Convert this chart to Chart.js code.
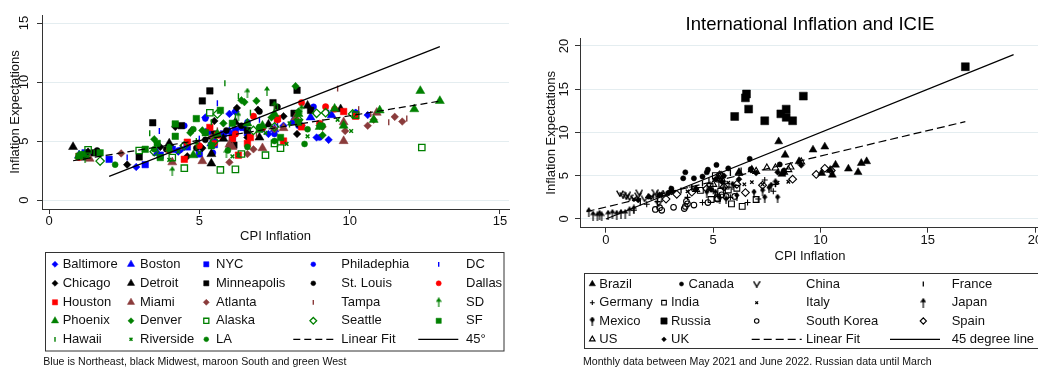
<!DOCTYPE html>
<html>
<head>
<meta charset="utf-8">
<script src="https://cdn.jsdelivr.net/npm/chart.js@4.4.1/dist/chart.umd.min.js"></script>
<style>
  html, body { margin: 0; padding: 0; background: #fff; }
  body { width: 1038px; height: 367px; overflow: hidden; position: relative; }
  canvas { position: absolute; top: 0; }
  #us { left: 0; }
  #intl { left: 520px; }
</style>
</head>
<body>
<canvas id="us" width="520" height="367"></canvas>
<canvas id="intl" width="580" height="367"></canvas>
<script>
// ---------- US cities: [CPI inflation, inflation expectations] ----------
const baltimore = [[2.9,2.8],[4.3,4.1],[4.4,4.3],[5.2,7.0],[5.5,5.0],[6.0,7.3],[6.2,7.5],[7.3,5.6],[7.8,6.3],[8.4,6.3],[8.9,5.3],[9.3,5.1],[10.2,7.4],[10.6,7.2]];
const boston = [[1.0,3.8],[3.6,4.0],[4.0,4.4],[5.0,4.5],[5.4,4.8],[6.0,5.8],[6.5,6.1],[7.5,6.0],[8.1,6.6],[8.7,7.0],[9.4,7.2]];
const nyc = [[1.2,4.0],[2.0,3.45],[3.2,3.0],[3.7,3.8],[4.1,4.3],[4.6,4.5],[5.0,3.9],[5.3,5.8],[5.5,4.7],[5.8,5.6],[6.1,5.3],[6.2,5.9],[6.4,6.2],[6.6,5.7]];
const philadelphia = [[1.3,3.8],[4.3,4.2],[4.5,6.3],[5.2,6.9],[5.45,4.0],[6.2,7.5],[6.6,6.6],[7.1,6.0],[7.5,5.6],[8.3,6.3],[8.8,7.9],[9.0,5.3],[10.2,7.4]];
const dc = [[1.1,3.7],[2.6,3.6],[3.67,5.85],[4.5,4.6],[5.0,5.2],[5.6,8.2],[6.2,6.0],[7.0,6.8],[7.6,6.4],[8.1,7.1],[9.3,7.4]];
const chicago = [[1.3,4.1],[2.6,3.0],[3.7,4.5],[4.2,6.2],[4.6,3.7],[4.75,5.9],[5.1,4.4],[5.5,6.7],[6.25,7.8],[6.6,5.3],[6.95,7.65],[7.8,7.1],[8.25,5.6]];
const detroit = [[0.8,4.5],[1.2,3.6],[4.0,4.8],[5.4,3.9],[5.4,3.1],[5.8,5.2],[6.2,6.6],[7.0,5.3],[7.3,6.4],[8.6,8.0],[9.7,7.7]];
const minneapolis = [[1.5,4.0],[3.0,3.65],[3.45,6.55],[4.4,6.3],[5.1,8.4],[5.35,9.25],[5.5,5.6],[6.15,4.65],[6.6,5.9],[7.45,8.25],[8.15,7.35],[8.25,9.3],[8.7,7.6]];
const stLouis = [[1.6,4.2],[3.9,4.3],[4.2,6.3],[4.9,4.4],[5.2,5.1],[5.9,5.9],[6.0,4.6],[6.4,6.3],[7.0,7.5],[7.6,7.9],[8.3,6.4]];
const dallas = [[1.0,3.6],[4.0,4.2],[5.0,4.6],[5.5,4.8],[6.2,5.6],[6.8,7.1],[7.1,6.1],[7.6,6.8],[8.4,8.25],[9.0,6.5],[9.2,7.9],[9.5,7.7]];
const houston = [[1.0,3.7],[4.5,3.45],[4.6,4.9],[5.35,6.15],[5.6,5.5],[6.1,5.2],[6.3,3.8],[6.6,4.8],[6.7,5.3],[7.6,6.9],[7.8,5.0],[8.4,6.2],[9.8,7.5],[10.2,7.1]];
const miami = [[1.35,3.5],[4.1,3.2],[5.1,3.3],[6.0,4.7],[6.1,4.5],[7.1,4.4],[7.8,6.1],[8.2,7.0],[9.8,5.0],[9.8,6.6],[10.9,7.4]];
const atlanta = [[2.4,3.95],[5.4,5.3],[6.0,3.2],[6.6,3.9],[6.8,4.3],[7.5,6.0],[9.1,6.2],[9.85,5.85],[10.6,6.3],[10.8,6.8],[11.5,7.05],[11.75,6.65]];
const tampa = [[4.4,4.5],[5.6,5.9],[6.9,5.6],[7.5,7.8],[8.2,6.7],[9.1,6.6],[9.6,9.45],[10.3,7.7],[10.7,7.3],[11.3,6.6],[11.9,6.9]];
const sd = [[1.2,3.6],[4.1,2.45],[4.9,4.7],[5.9,4.0],[6.3,7.1],[6.6,6.4],[6.6,9.1],[7.25,9.25],[7.5,8.0],[8.4,7.7]];
const phoenix = [[1.0,3.75],[4.8,3.8],[5.6,5.6],[6.6,6.5],[7.1,6.3],[7.5,7.3],[8.3,7.3],[9.0,6.2],[9.5,7.75],[9.8,6.3],[10.8,6.8],[11.0,7.6],[12.15,7.7],[12.35,9.25],[13.0,8.4]];
const denver = [[3.5,5.15],[4.0,4.2],[4.7,5.7],[5.1,5.9],[5.8,6.5],[6.4,8.45],[6.5,8.3],[6.9,8.4],[7.4,7.0],[8.2,9.65],[8.3,7.5],[9.0,6.3],[9.1,5.5]];
const alaska = [[1.3,4.25],[3.0,4.2],[4.1,3.6],[4.5,2.7],[5.35,7.4],[5.7,2.55],[6.2,2.6],[6.4,3.9],[7.2,3.8],[7.5,4.8],[7.7,4.4],[10.2,7.2],[12.4,4.45]];
const seattle = [[1.7,3.3],[3.5,4.1],[4.5,4.6],[5.5,5.0],[5.6,7.3],[6.8,5.9],[7.5,6.2],[8.3,6.8],[8.9,7.35],[9.2,7.4],[10.1,7.3]];
const sf = [[1.0,3.7],[1.7,4.0],[3.2,4.3],[3.6,4.8],[3.7,3.6],[4.2,5.4],[4.2,6.45],[4.9,6.9],[5.2,5.7],[5.4,4.6],[5.7,7.6],[6.1,6.5],[7.0,6.0],[7.7,5.3],[8.3,6.6]];
const hawaii = [[1.5,4.0],[3.35,5.65],[4.9,5.0],[5.4,6.6],[5.85,9.9],[6.2,7.1],[6.3,8.8],[6.7,7.4],[7.6,7.9],[8.0,6.4]];
const riverside = [[1.3,3.7],[4.0,3.4],[4.3,4.1],[5.0,4.0],[6.1,3.7],[6.3,3.8],[7.2,5.7],[7.9,4.75],[8.0,6.5],[8.6,5.4],[9.0,6.4],[9.6,6.8],[10.05,5.85]];
const la = [[1.1,3.9],[2.2,3.0],[3.5,4.3],[4.0,4.5],[4.8,6.0],[5.95,4.2],[6.6,4.5],[7.0,6.2],[7.5,5.0],[8.5,4.75],[8.6,6.0],[9.1,6.3]];
const usFit = [[0.8,3.33],[13.0,8.38]];
const us45 = [[2,2],[13,13]];

const cityLabels = ['Baltimore','Boston','NYC','Philadephia','DC','Chicago','Detroit','Minneapolis','St. Louis','Dallas',
  'Houston','Miami','Atlanta','Tampa','SD','Phoenix','Denver','Alaska','Seattle','SF','Hawaii','Riverside','LA'];
const cityData = [baltimore, boston, nyc, philadelphia, dc, chicago, detroit, minneapolis, stLouis, dallas,
  houston, miami, atlanta, tampa, sd, phoenix, denver, alaska, seattle, sf, hawaii, riverside, la];

// ---------- countries ----------
const brazil = [[6.2,5.4],[8.05,8.95],[8.2,5.2],[8.35,7.4],[9.0,6.65],[9.65,8.0],[10.05,5.3],[10.2,8.35],[10.45,5.65],[10.55,5.1],[10.7,6.25],[11.3,5.8],[11.75,5.4],[11.9,6.45],[12.15,6.65]];
const canada = [[2.9,3.0],[3.05,3.5],[3.6,4.7],[3.7,5.4],[4.1,4.7],[4.5,4.9],[4.7,5.4],[4.75,5.7],[5.15,6.25],[5.7,5.85],[6.7,6.95],[6.75,5.75],[8.1,6.3],[8.3,5.6]];
const china = [[0.65,2.95],[0.8,2.75],[0.95,2.6],[1.0,2.85],[1.1,2.5],[1.3,2.4],[1.5,2.7],[1.55,3.05],[1.8,2.35],[2.1,2.6],[2.3,3.1],[2.45,1.8],[2.5,2.9],[2.8,3.0]];
const france = [[1.6,1.9],[2.2,2.6],[2.6,2.8],[2.9,3.0],[3.0,3.5],[3.5,3.3],[4.0,3.6],[4.5,4.1],[4.8,4.4],[5.2,4.8],[5.8,5.3],[6.3,5.6]];
const germany = [[1.3,1.0],[1.9,1.7],[2.4,2.0],[3.8,2.5],[4.0,3.7],[4.5,1.9],[5.0,3.2],[5.2,2.8],[5.8,2.5],[6.6,1.9],[7.1,2.3],[7.4,4.5],[7.8,3.2],[7.9,4.0]];
const india = [[4.4,3.3],[4.85,3.75],[4.9,2.25],[5.1,5.0],[5.2,2.4],[5.3,4.6],[5.35,3.2],[5.4,4.0],[5.6,3.8],[5.7,3.35],[5.85,1.75],[6.1,3.55],[6.35,1.45],[7.0,2.25]];
const italy = [[1.3,2.3],[2.0,2.5],[2.6,2.8],[3.0,3.0],[3.8,3.2],[4.2,3.4],[4.8,3.6],[5.7,4.2],[6.0,3.8],[6.45,4.0],[6.8,4.25],[7.3,4.0],[8.0,4.2],[8.5,4.3]];
const japan = [[-0.8,0.8],[-0.6,0.4],[-0.4,0.3],[-0.3,0.5],[-0.2,0.3],[0.1,0.5],[0.3,0.6],[0.5,0.5],[0.7,0.6],[0.9,0.6],[1.1,0.9],[1.3,1.1],[2.4,2.4],[2.6,2.5]];
const mexico = [[4.7,3.0],[5.1,3.0],[5.3,2.3],[5.6,2.2],[5.9,3.9],[6.1,2.6],[6.9,3.0],[7.3,3.2],[7.4,2.4],[7.6,3.5],[7.7,3.8],[7.9,4.2],[8.0,2.4]];
const russia = [[6.0,11.85],[6.5,14.0],[6.55,14.45],[6.65,12.7],[7.4,11.35],[8.15,12.15],[8.4,12.7],[8.4,11.75],[8.7,11.35],[9.2,14.2],[16.75,17.6]];
const southKorea = [[2.3,1.1],[2.5,1.3],[2.6,1.0],[3.15,1.35],[3.65,1.2],[3.7,1.45],[3.75,2.05],[3.8,1.75],[4.1,1.6],[4.75,1.9],[5.2,2.3],[5.4,2.8],[5.6,2.6],[6.0,2.6]];
const spain = [[2.8,2.3],[3.3,2.85],[4.0,3.1],[4.7,3.5],[5.3,5.1],[5.5,3.7],[6.1,4.0],[6.5,3.05],[7.3,3.9],[8.7,4.6],[9.8,5.15],[10.2,5.85],[10.5,5.6]];
const usa = [[4.2,3.4],[5.0,4.0],[5.3,4.9],[5.4,4.6],[5.4,5.0],[6.2,5.3],[6.8,5.7],[7.0,5.5],[7.5,5.9],[7.9,5.9],[8.3,5.4],[8.5,5.7],[8.6,6.0],[9.1,6.6]];
const uk = [[1.5,2.2],[2.0,2.6],[2.5,2.8],[3.1,3.2],[4.2,3.5],[4.9,3.4],[5.1,4.6],[5.4,4.3],[5.5,5.0],[6.2,4.6],[7.0,5.3],[8.0,5.4],[8.3,5.3],[9.1,6.2]];
const intlFit = [[-0.9,0.85],[16.75,11.25]];
const intl45 = [[0,0],[19,19]];

const countryLabels = ['Brazil','Canada','China','France','Germany','India','Italy','Japan','Mexico','Russia','South Korea','Spain','US','UK'];
const countryData = [brazil, canada, china, france, germany, india, italy, japan, mexico, russia, southKorea, spain, usa, uk];

const usNote = 'Blue is Northeast, black Midwest, maroon South and green West';
const intlNote = 'Monthly data between May 2021 and June 2022. Russian data until March';

// ---------- styling ----------
const FONT = '"Liberation Sans", Arial, Helvetica, sans-serif';
const TXT = '#111';
const AXIS = '#333';
const GRID = '#e4edf0';
const BLUE = '#0000ff', BLACK = '#000000', RED = '#ff0000', MAROON = '#8a3b3b', GREEN = '#008000';

Chart.defaults.font.family = FONT;
Chart.defaults.font.size = 13;
Chart.defaults.color = TXT;
Chart.defaults.animation = false;
Chart.defaults.events = [];

// small drawn markers for symbols Chart.js does not have
function arrowMark(color) {
  const c = document.createElement('canvas');
  c.width = 6; c.height = 10;
  const g = c.getContext('2d');
  g.fillStyle = color; g.strokeStyle = color; g.lineWidth = 1.2;
  g.beginPath(); g.moveTo(3, 0); g.lineTo(6, 4.5); g.lineTo(0, 4.5); g.closePath(); g.fill();
  g.beginPath(); g.moveTo(3, 3); g.lineTo(3, 10); g.stroke();
  return c;
}
function vMark(color) {
  const c = document.createElement('canvas');
  c.width = 8; c.height = 7;
  const g = c.getContext('2d');
  g.strokeStyle = color; g.lineWidth = 1.4;
  g.beginPath(); g.moveTo(0.7, 0.7); g.lineTo(4, 6.3); g.lineTo(7.3, 0.7); g.stroke();
  return c;
}
function spadeMark(color) {
  const c = document.createElement('canvas');
  c.width = 6; c.height = 9;
  const g = c.getContext('2d');
  g.fillStyle = color; g.strokeStyle = color; g.lineWidth = 1.2;
  g.beginPath(); g.moveTo(3, 0); g.lineTo(5.6, 3.2); g.lineTo(3, 6.4); g.lineTo(0.4, 3.2); g.closePath(); g.fill();
  g.beginPath(); g.moveTo(3, 5.5); g.lineTo(3, 9); g.stroke();
  return c;
}

const cityStyles = [
  {color: BLUE, style: 'rectRot', r: 3.8, bw: 0.5},
  {color: BLUE, style: 'triangle', r: 5.2, bw: 0.5},
  {color: BLUE, style: 'rect', r: 4.6, bw: 0.5},
  {color: BLUE, style: 'circle', r: 3.0, bw: 0.5},
  {color: BLUE, style: 'line', rot: 90, r: 3.0, bw: 1.4},
  {color: BLACK, style: 'rectRot', r: 3.8, bw: 0.5},
  {color: BLACK, style: 'triangle', r: 5.2, bw: 0.5},
  {color: BLACK, style: 'rect', r: 4.6, bw: 0.5},
  {color: BLACK, style: 'circle', r: 3.0, bw: 0.5},
  {color: RED, style: 'circle', r: 3.2, bw: 0.5},
  {color: RED, style: 'rect', r: 4.6, bw: 0.5},
  {color: MAROON, style: 'triangle', r: 5.2, bw: 0.5},
  {color: MAROON, style: 'rectRot', r: 3.8, bw: 0.5},
  {color: MAROON, style: 'line', rot: 90, r: 3.0, bw: 1.4},
  {color: GREEN, style: arrowMark(GREEN), r: 3},
  {color: GREEN, style: 'triangle', r: 5.2, bw: 0.5},
  {color: GREEN, style: 'rectRot', r: 3.8, bw: 0.5},
  {color: GREEN, style: 'rect', r: 4.5, bw: 1.3, open: true},
  {color: GREEN, style: 'rectRot', r: 4.2, bw: 1.3, open: true},
  {color: GREEN, style: 'rect', r: 4.6, bw: 0.5},
  {color: GREEN, style: 'line', rot: 90, r: 3.0, bw: 1.4},
  {color: GREEN, style: 'crossRot', r: 2.6, bw: 1.5},
  {color: GREEN, style: 'circle', r: 3.0, bw: 0.5}
];

const countryStyles = [
  {color: BLACK, style: 'triangle', r: 4.6, bw: 0.5},
  {color: BLACK, style: 'circle', r: 2.6, bw: 0.5},
  {color: BLACK, style: vMark(BLACK), r: 3},
  {color: BLACK, style: 'line', rot: 90, r: 3.0, bw: 1.3},
  {color: BLACK, style: 'cross', r: 3.0, bw: 1.1},
  {color: BLACK, style: 'rect', r: 4.1, bw: 1.1, open: true},
  {color: BLACK, style: 'crossRot', r: 2.4, bw: 1.3},
  {color: BLACK, style: arrowMark(BLACK), r: 3},
  {color: BLACK, style: spadeMark(BLACK), r: 3},
  {color: BLACK, style: 'rect', r: 5.6, bw: 0.5},
  {color: BLACK, style: 'circle', r: 2.8, bw: 1.1, open: true},
  {color: BLACK, style: 'rectRot', r: 3.9, bw: 1.1, open: true},
  {color: BLACK, style: 'triangle', r: 4.0, bw: 1.1, open: true},
  {color: BLACK, style: 'rectRot', r: 3.0, bw: 0.5}
];

function pointSet(label, pts, s, i) {
  return {
    label,
    data: pts.map(([x, y]) => ({x, y})),
    showLine: false,
    pointStyle: s.style,
    pointRadius: s.r,
    pointRotation: s.rot || 0,
    pointBackgroundColor: s.open ? 'rgba(0,0,0,0)' : s.color,
    pointBorderColor: s.color,
    pointBorderWidth: s.bw || 0,
    order: -i
  };
}
function lineSet(label, pts, dash, i) {
  return {
    label,
    data: pts.map(([x, y]) => ({x, y})),
    showLine: true,
    pointRadius: 0,
    borderColor: '#000',
    borderWidth: 1.2,
    borderDash: dash,
    fill: false,
    order: -i
  };
}

function axisX(min, max, h, titlePad) {
  return {
    type: 'linear', min, max,
    border: {color: AXIS, width: 1},
    grid: {drawOnChartArea: false, drawTicks: true, tickLength: 5, tickColor: AXIS, tickWidth: 1},
    ticks: {stepSize: 5, includeBounds: false, padding: 0, maxRotation: 0, color: TXT, font: {size: 13}},
    title: {display: true, text: 'CPI Inflation', color: TXT, font: {size: 13}, padding: {top: 0, bottom: titlePad}},
    afterFit: s => { s.height = h; s.paddingLeft = 0; s.paddingRight = 0; }
  };
}
function axisY(min, max, w, tickPad, titlePad) {
  return {
    type: 'linear', min, max,
    border: {color: AXIS, width: 1},
    grid: {color: GRID, lineWidth: 1, drawTicks: true, tickLength: 5, tickColor: AXIS, tickWidth: 1},
    ticks: {stepSize: 5, includeBounds: false, minRotation: 90, maxRotation: 90, crossAlign: 'center',
            padding: tickPad, color: TXT, font: {size: 13}},
    title: {display: true, text: 'Inflation Expectations', color: TXT, font: {size: 13}, padding: {top: titlePad, bottom: 0}},
    afterFit: s => { s.width = w; s.paddingTop = 0; s.paddingBottom = 0; }
  };
}

function drawSymbol(ctx, s, x, y, k) {
  ctx.save();
  ctx.fillStyle = s.open ? 'rgba(0,0,0,0)' : s.color;
  ctx.strokeStyle = s.color;
  ctx.lineWidth = s.bw || 0;
  if (typeof s.style === 'object') {
    ctx.drawImage(s.style, x - s.style.width / 2, y - s.style.height / 2);
  } else {
    Chart.helpers.drawPoint(ctx, {pointStyle: s.style, radius: s.r * k, rotation: s.rot || 0, borderWidth: s.bw || 0}, x, y);
  }
  ctx.restore();
}

// legend box drawn inside the canvas, Stata-like grid of keys
function keyPlugin(key) {
  return {
    id: 'stataKey',
    afterDraw(chart) {
      const ctx = chart.ctx;
      ctx.save();
      ctx.strokeStyle = AXIS;
      ctx.lineWidth = 1;
      ctx.strokeRect(key.box[0], key.box[1], key.box[2], key.box[3]);
      ctx.font = '13px ' + FONT;
      ctx.textBaseline = 'middle';
      ctx.fillStyle = TXT;
      key.items.forEach((it, n) => {
        const row = Math.floor(n / key.cols), col = n % key.cols;
        const y = key.rows[row];
        const shift = (key.shift && key.shift[n]) || 0;
        if (it.line) {
          ctx.save();
          ctx.strokeStyle = '#000';
          ctx.lineWidth = 1.2;
          ctx.setLineDash(it.line);
          ctx.beginPath();
          ctx.moveTo(it.span[0], y);
          ctx.lineTo(it.span[1], y);
          ctx.stroke();
          ctx.restore();
        } else {
          drawSymbol(ctx, it.s, key.markX[col] + shift, y, key.k);
        }
        ctx.fillStyle = TXT;
        ctx.textAlign = 'left';
        ctx.fillText(it.label, key.textX[col] + shift, y);
      });
      ctx.font = '10.6px ' + FONT;
      ctx.fillText(key.note, key.noteX, key.noteY);
      ctx.restore();
    }
  };
}

// ---------- left: US cities ----------
const usSets = cityData.map((d, i) => pointSet(cityLabels[i], d, cityStyles[i], i));
usSets.push(lineSet('Linear Fit', usFit, [7, 4], usSets.length));
usSets.push(lineSet('45°', us45, [], usSets.length));

new Chart(document.getElementById('us'), {
  type: 'scatter',
  data: {datasets: usSets},
  options: {
    responsive: false,
    layout: {autoPadding: false, padding: {left: 0, right: 11, top: 15, bottom: 118}},
    scales: {x: axisX(-0.233, 15.30, 40, 5.2), y: axisY(-0.76, 15.68, 42, 5, 7.5)},
    plugins: {legend: {display: false}, tooltip: {enabled: false}}
  },
  plugins: [keyPlugin({
    box: [45.5, 252.5, 458.5, 98.5],
    cols: 5,
    rows: [264.3, 283.3, 302.3, 320.8, 339.3],
    markX: [55, 131, 206.3, 313.3, 438.7],
    textX: [62.7, 140, 216, 341.3, 466],
    k: 0.8,
    items: cityLabels.map((l, i) => ({label: l, s: cityStyles[i]})).concat([
      {label: 'Linear Fit', line: [7, 4], span: [293.3, 333.3]},
      {label: '45°', line: [], span: [418.3, 458.3]}
    ]),
    note: usNote, noteX: 43.3, noteY: 361.7
  })]
});

// ---------- right: international ----------
const intlSets = countryData.map((d, i) => pointSet(countryLabels[i], d, countryStyles[i], i));
intlSets.push(lineSet('Linear Fit', intlFit, [8, 4], intlSets.length));
intlSets.push(lineSet('45 degree line', intl45, [], intlSets.length));

new Chart(document.getElementById('intl'), {
  type: 'scatter',
  data: {datasets: intlSets},
  options: {
    responsive: false,
    layout: {autoPadding: false, padding: {left: 0, right: 60, top: 0, bottom: 99.3}},
    scales: {x: axisX(-1.21, 20.23, 40, 3.9), y: axisY(-1.01, 20.92, 60, 3.8, 23.7)},
    plugins: {
      legend: {display: false},
      tooltip: {enabled: false},
      title: {display: true, fullSize: false, text: 'International Inflation and ICIE', color: '#000',
              font: {size: 18.5, weight: 'normal'}, padding: {top: 13.9, bottom: 1.9}}
    }
  },
  plugins: [keyPlugin({
    box: [64.5, 273.5, 520, 75],
    cols: 4,
    rows: [284, 302.7, 321, 339.3],
    markX: [72.3, 144, 236.7, 403.3],
    textX: [79.3, 151, 286, 431.7],
    shift: {1: 17.5},
    k: 0.8,
    items: countryLabels.map((l, i) => ({label: l, s: countryStyles[i]})).concat([
      {label: 'Linear Fit', line: [8, 4], span: [231.7, 281.7]},
      {label: '45 degree line', line: [], span: [370, 420]}
    ]),
    note: intlNote, noteX: 63, noteY: 361.7
  })]
});
</script>
</body>
</html>
